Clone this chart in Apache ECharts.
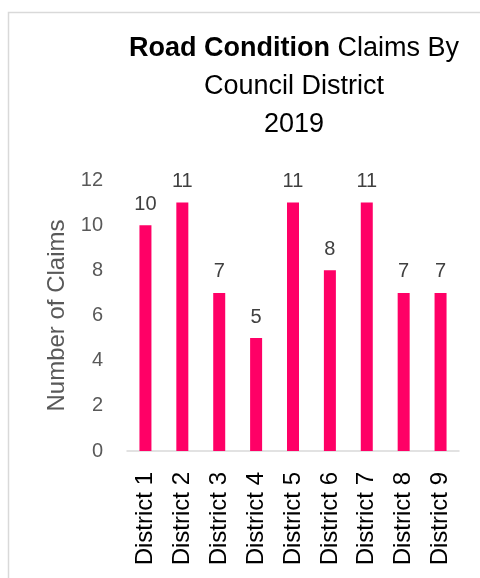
<!DOCTYPE html>
<html><head><meta charset="utf-8">
<script src="https://cdn.jsdelivr.net/npm/echarts@6/dist/echarts.min.js"></script>
<style>html,body{margin:0;padding:0;background:#fff}#c{width:480px;height:578px}</style>
</head><body><div id="c"></div>
<script>
const categories = ['District 1','District 2','District 3','District 4','District 5','District 6','District 7','District 8','District 9'];
const claims = [10, 11, 7, 5, 11, 8, 11, 7, 7];
const yTicks = { min: 0, max: 12, interval: 2 };
const FONT = "'Liberation Sans', Arial, sans-serif";

const chart = echarts.init(document.getElementById('c'), null, {renderer: 'canvas'});
chart.setOption({
  animation: false,
  backgroundColor: '#fff',
  graphic: [{
    type: 'rect', left: 6, top: 10, shape: {width: 520, height: 620},
    style: {fill: 'none', stroke: '#d9d9d9', lineWidth: 1.5}
  }],
  title: {
    text: '{b|Road Condition} Claims By\nCouncil District\n2019',
    left: 289, top: 25, textAlign: 'center',
    textStyle: {
      fontFamily: FONT, fontSize: 27, fontWeight: 'normal', color: '#000',
      lineHeight: 38, align: 'center',
      rich: { b: { fontFamily: FONT, fontSize: 27, fontWeight: 'bold', color: '#000', lineHeight: 38 } }
    }
  },
  grid: { left: 127, right: 21, top: 180, bottom: 127, containLabel: false },
  xAxis: {
    type: 'category', data: categories,
    axisLine: { lineStyle: { color: '#d9d9d9', width: 1.5 } },
    axisTick: { show: false },
    axisLabel: { rotate: 90, color: '#000', fontFamily: FONT, fontSize: 24, margin: 21 }
  },
  yAxis: {
    type: 'value', min: yTicks.min, max: yTicks.max, interval: yTicks.interval,
    name: 'Number of Claims', nameLocation: 'middle', nameGap: 53,
    nameTextStyle: { color: '#595959', fontFamily: FONT, fontSize: 24 },
    axisLine: { show: false }, axisTick: { show: false }, splitLine: { show: false },
    axisLabel: { color: '#595959', fontFamily: FONT, fontSize: 20, margin: 24 }
  },
  series: [{
    type: 'bar', data: claims, barWidth: 12,
    itemStyle: { color: '#FF0066' },
    label: { show: true, position: 'top', distance: 11, color: '#404040', fontFamily: FONT, fontSize: 20 }
  }]
});
</script></body></html>
